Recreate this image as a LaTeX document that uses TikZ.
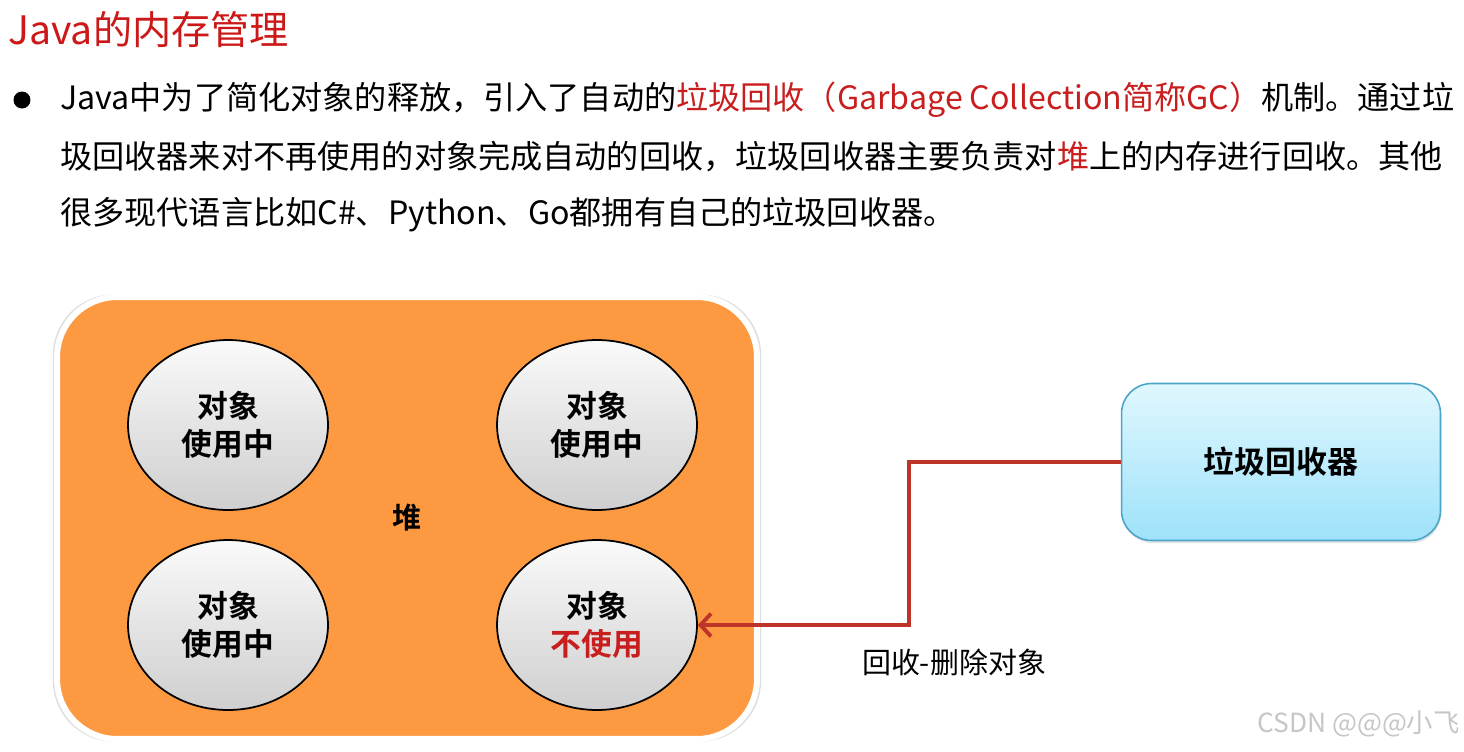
\documentclass[tikz,border=0pt]{standalone}
\usepackage{fontspec}
\setmainfont{Noto Sans CJK SC}[BoldFont={Noto Sans CJK SC Bold}]
\usepackage{tikz}
\usetikzlibrary{arrows.meta,shapes,positioning,shadows}
\usepackage{xcolor}
\definecolor{gctitle}{RGB}{204,24,24}
\definecolor{gcred}{RGB}{200,30,30}
\definecolor{heaporange}{RGB}{253,153,64}
\definecolor{recyclered}{RGB}{190,52,40}
\definecolor{boxedge}{RGB}{75,165,200}
\definecolor{boxtop}{RGB}{224,247,254}
\definecolor{boxbottom}{RGB}{158,226,250}
\tikzstyle{heap} = [rectangle, rounded corners=1.2cm, minimum width=14cm, minimum height=8.84cm, fill=heaporange, draw=white, line width=0.12cm, drop shadow={shadow xshift=0pt, shadow yshift=0pt, shadow scale=1.012, opacity=0.25}, font=\bfseries\fontsize{16.5pt}{18pt}\selectfont]
\tikzstyle{object} = [ellipse, minimum width=4cm, minimum height=3.4cm, inner sep=0pt, draw=black, line width=1pt, top color=gray!4, bottom color=gray!38, align=center, font=\bfseries\fontsize{17.5pt}{21.5pt}\selectfont]
\tikzstyle{collector} = [rectangle, rounded corners=0.6cm, minimum width=6.38cm, minimum height=3.14cm, draw=boxedge, line width=0.9pt, top color=boxtop, bottom color=boxbottom, drop shadow={shadow xshift=0.5pt, shadow yshift=-1.5pt, opacity=0.2}, font=\bfseries\fontsize{17.6pt}{20pt}\selectfont]
\tikzstyle{recycle} = [line width=2.2pt, color=recyclered, -{Straight Barb[length=6pt, width=13pt, line width=2.2pt]}]
\tikzstyle{bodytext} = [anchor=west, inner sep=0pt, font=\fontsize{18.3pt}{22pt}\selectfont]

\begin{document}
\begin{tikzpicture}[x=0.02cm, y=-0.02cm]
\useasboundingbox (0,0) rectangle (1464,751);

% Title and text
\node (title) [anchor=west, inner sep=0pt, text=gctitle, font=\fontsize{22.3pt}{26pt}\selectfont] at (8,30) {Java的内存管理};
\fill (22,100) circle (0.17cm);
\node (line1) [bodytext] at (60,100) {Java中为了简化对象的释放，引入了自动的\textcolor{gcred}{垃圾回收（Garbage Collection简称GC）}机制。通过垃};
\node (line2) [bodytext] at (60,157) {圾回收器来对不再使用的对象完成自动的回收，垃圾回收器主要负责对\textcolor{gcred}{堆}上的内存进行回收。其他};
\node (line3) [bodytext] at (60,215) {很多现代语言比如C\#、Python、Go都拥有自己的垃圾回收器。};

% Heap with objects
\node (heap) [heap] at (407,518) {堆};
\node (used1) [object] at (228,425) {对象\\使用中};
\node (used2) [object] at (597,425) {对象\\使用中};
\node (used3) [object] at (228,625) {对象\\使用中};
\node (unused) [object] at (597,625) {对象\\\textcolor{gcred}{不使用}};

% Garbage collector
\node (collector) [collector] at (1281,462) {垃圾回收器};

% Arrow
\coordinate (turn) at (909,462);
\draw[recycle] (collector.west) -- (turn) |- (unused.east);
\node (recyclelabel) [font=\fontsize{16.5pt}{18pt}\selectfont] at (954,662) {回收-删除对象};

% Watermark
\node (mark) [anchor=east, inner sep=0pt, text=gray!45, font=\fontsize{15pt}{17pt}\selectfont] at (1460,724) {CSDN @@@小飞};
\end{tikzpicture}
\end{document}
